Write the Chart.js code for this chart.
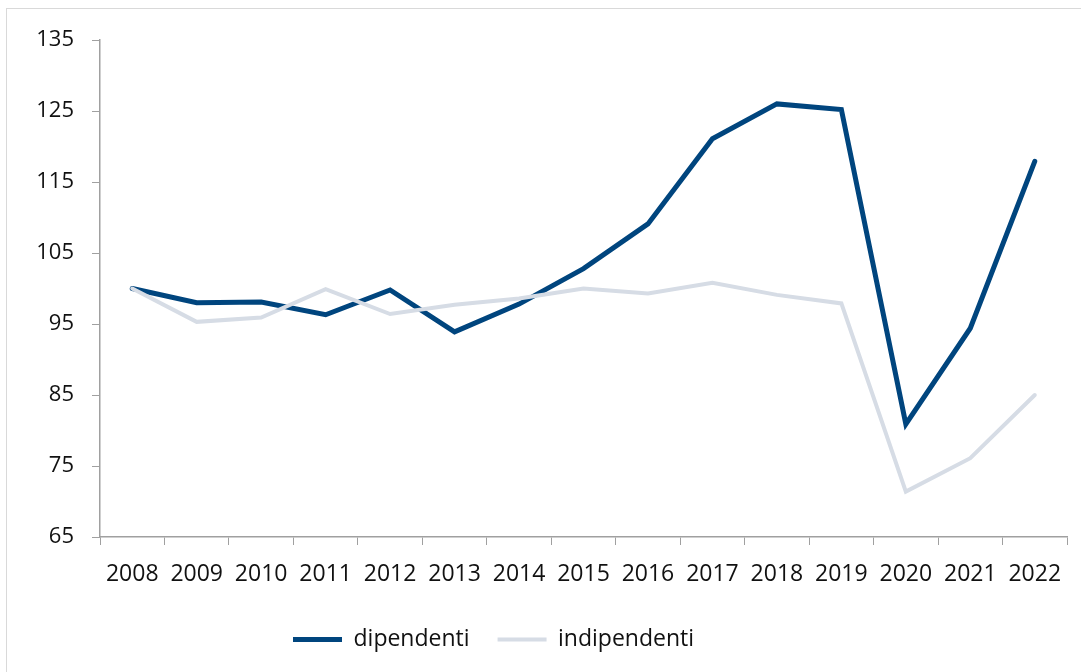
<!DOCTYPE html>
<html>
<head>
<meta charset="utf-8">
<script src="https://cdn.jsdelivr.net/npm/chart.js@4"></script>
<style>
    html, body { margin: 0; padding: 0; background: #fff; }
    #wrap { position: relative; width: 1081px; height: 672px; overflow: hidden; }
    #frame { position: absolute; left: 6px; top: 8px; width: 1100px; height: 700px; border: 1px solid #d9d9d9; }
    #chart { position: absolute; left: 0; top: 0; }
</style>
</head>
<body>
<div id="wrap">
    <div id="frame"></div>
    <canvas id="chart" width="1081" height="672"></canvas>
</div>
<script>
// Index values, 2008 = 100
const years = ['2008', '2009', '2010', '2011', '2012', '2013', '2014', '2015',
    '2016', '2017', '2018', '2019', '2020', '2021', '2022'];
const dipendenti = [100, 98.0, 98.1, 96.3, 99.8, 93.9, 97.8, 102.8, 109.1, 121.1, 126.0, 125.2, 80.9, 94.4, 117.9];
const indipendenti = [100, 95.3, 95.9, 99.9, 96.4, 97.7, 98.6, 100.0, 99.3, 100.8, 99.1, 97.9, 71.4, 76.1, 85.0];

const yMin = 65;
const yMax = 135;
const yStep = 10;

const axisColor = '#a0a0a0';
const textColor = '#111111';
const font = { family: "'Open Sans', sans-serif", size: 23 };
const yFont = { family: "'Open Sans', sans-serif", size: 22 };

// Move the legend so it sits where the original one is (a bit left of centre)
const legendShift = {
    id: 'legendShift',
    afterLayout(chart) {
        const legend = chart.legend;
        if (!legend || !legend.lineWidths) return;
        const pad = legend.options.labels.padding;
        const startX = (legend.left + pad + legend.right - legend.lineWidths[0]) / 2;
        const dx = 293 - startX;
        legend.left += dx;
        legend.right += dx;
    },
};

new Chart(document.getElementById('chart'), {
    type: 'line',
    data: {
        labels: years,
        datasets: [
            {
                label: 'dipendenti',
                data: dipendenti,
                borderColor: '#00457e',
                backgroundColor: '#00457e',
                borderWidth: 5,
                borderCapStyle: 'round',
                pointRadius: 0,
                order: 1,
            },
            {
                label: 'indipendenti',
                data: indipendenti,
                borderColor: '#d6dce5',
                backgroundColor: '#d6dce5',
                borderWidth: 4,
                borderCapStyle: 'round',
                pointRadius: 0,
                order: 0,
            },
        ],
    },
    options: {
        responsive: false,
        animation: false,
        layout: { padding: { top: 40, right: 14, bottom: 11, left: 0 } },
        plugins: {
            legend: {
                display: true,
                position: 'bottom',
                labels: {
                    color: textColor,
                    font: font,
                    usePointStyle: true,
                    pointStyle: 'line',
                    pointStyleWidth: 49,
                    padding: 28,
                    sort: (a, b) => a.datasetIndex - b.datasetIndex,
                },
            },
            tooltip: { enabled: false },
        },
        scales: {
            x: {
                offset: true,
                grid: {
                    offset: true,
                    drawOnChartArea: false,
                    drawTicks: true,
                    tickLength: 8,
                    color: axisColor,
                },
                border: { color: axisColor, width: 1.5 },
                ticks: { color: textColor, font: font, padding: 16, maxRotation: 0, autoSkip: false },
                afterFit: (scale) => { scale.height = 63; },
            },
            y: {
                min: yMin,
                max: yMax,
                grid: {
                    drawOnChartArea: false,
                    drawTicks: true,
                    tickLength: 8,
                    color: axisColor,
                },
                border: { color: axisColor, width: 1.5 },
                ticks: { stepSize: yStep, color: textColor, font: yFont, padding: 18 },
                afterFit: (scale) => { scale.width = 100; },
            },
        },
    },
    plugins: [legendShift],
});
</script>
</body>
</html>
